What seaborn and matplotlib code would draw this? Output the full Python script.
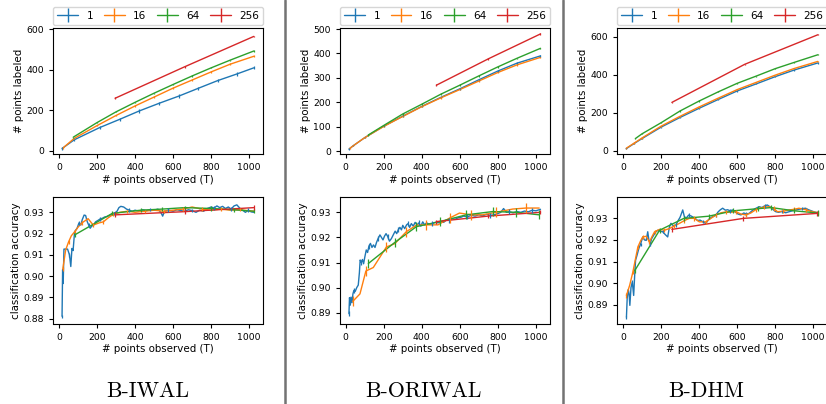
import matplotlib
matplotlib.use("Agg")
import matplotlib.pyplot as plt
from matplotlib.lines import Line2D
import pandas as pd
import seaborn as sns

# batch sizes shown in every legend
BATCHES = [1, 16, 64, 256]
PANELS = ["B-IWAL", "B-ORIWAL", "B-DHM"]

# ---- B-IWAL ---------------------------------------------------------------
iwal_lab_x = {
    1: [16, 80, 213, 319, 421, 526, 631, 732, 834, 936, 1024],
    16: [20, 80, 200, 300, 400, 500, 600, 700, 800, 900, 1024],
    64: [75, 200, 300, 400, 500, 600, 700, 800, 900, 1024],
    256: [295, 660, 1024],
}
iwal_lab_y = {
    1: [12, 55, 115, 156, 197, 235, 271, 309, 347, 380, 410],
    16: [14, 62, 125, 175, 222, 266, 310, 350, 390, 428, 467],
    64: [68, 140, 193, 240, 285, 328, 370, 410, 448, 493],
    256: [260, 415, 565],
}
iwal_acc_x = {
    1: [16, 19, 22, 26, 35, 45, 55, 62, 68, 74, 82, 95, 105, 115, 122, 132, 140,
        148, 156, 164, 172, 182, 192, 205, 215, 228, 240, 252, 265, 278, 290, 305,
        315, 325, 340, 355, 370, 385, 400, 420, 440, 460, 480, 500, 520, 535, 545,
        555, 575, 600, 620, 640, 660, 680, 700, 720, 740, 760, 780, 800, 815, 830,
        845, 860, 875, 890, 905, 920, 935, 950, 965, 980, 995, 1010, 1024],
    16: [20, 35, 50, 65, 83, 100, 120, 153, 180, 210, 233, 260, 285, 320, 360,
         400, 450, 500, 550, 600, 650, 700, 750, 800, 850, 900, 950, 1024],
    64: [83, 280, 430, 540, 660, 800, 920, 1024],
    256: [295, 660, 1024],
}
iwal_acc_y = {
    1: [0.8811, 0.9030, 0.8965, 0.9127, 0.9127, 0.9127, 0.9100, 0.9045, 0.9130,
        0.9120, 0.9209, 0.9225, 0.9250, 0.9240, 0.9265, 0.9287, 0.9285, 0.9257,
        0.9240, 0.9225, 0.9235, 0.9240, 0.9255, 0.9262, 0.9268, 0.9272, 0.9278,
        0.9280, 0.9285, 0.9290, 0.9295, 0.9305, 0.9322, 0.9328, 0.9325, 0.9315,
        0.9310, 0.9305, 0.9310, 0.9305, 0.9312, 0.9308, 0.9312, 0.9310, 0.9315,
        0.9300, 0.9282, 0.9305, 0.9310, 0.9305, 0.9312, 0.9308, 0.9305, 0.9312,
        0.9308, 0.9300, 0.9310, 0.9305, 0.9318, 0.9325, 0.9320, 0.9330, 0.9322,
        0.9328, 0.9318, 0.9325, 0.9315, 0.9330, 0.9335, 0.9320, 0.9310, 0.9300,
        0.9310, 0.9302, 0.9300],
    16: [0.9033, 0.9123, 0.9160, 0.9190, 0.9209, 0.9230, 0.9250, 0.9270, 0.9240,
         0.9250, 0.9255, 0.9275, 0.9290, 0.9300, 0.9305, 0.9300, 0.9305, 0.9310,
         0.9305, 0.9310, 0.9315, 0.9325, 0.9315, 0.9310, 0.9315, 0.9310, 0.9312,
         0.9305],
    64: [0.9194, 0.9295, 0.9310, 0.9315, 0.9322, 0.9318, 0.9312, 0.9305],
    256: [0.9288, 0.9303, 0.9322],
}

# ---- B-ORIWAL -------------------------------------------------------------
oriwal_lab_x = {
    1: [17, 40, 100, 200, 300, 400, 500, 600, 700, 800, 900, 1024],
    16: [20, 40, 100, 200, 300, 400, 500, 600, 700, 800, 900, 1024],
    64: [119, 200, 300, 400, 500, 600, 700, 800, 900, 1024],
    256: [477, 750, 1024],
}
oriwal_lab_y = {
    1: [8, 22, 55, 102, 143, 183, 220, 255, 292, 328, 360, 390],
    16: [10, 22, 55, 101, 142, 182, 218, 252, 287, 322, 353, 384],
    64: [66, 105, 152, 192, 233, 270, 308, 345, 380, 421],
    256: [270, 378, 480],
}
oriwal_acc_x = {
    1: [17, 20, 24, 28, 33, 38, 43, 50, 58, 66, 72, 76, 82, 88, 94, 100, 108, 115,
        122, 130, 138, 146, 154, 162, 170, 180, 188, 196, 204, 212, 220, 230, 240,
        250, 260, 268, 276, 285, 293, 300, 310, 320, 328, 336, 345, 355, 365, 375,
        385, 395, 405, 415, 425, 440, 455, 470, 485, 500, 515, 530, 545, 560, 575,
        590, 605, 620, 640, 660, 680, 700, 720, 740, 760, 780, 800, 815, 830, 845,
        860, 880, 900, 920, 940, 960, 980, 1000, 1024],
    16: [37, 75, 106, 145, 214, 258, 319, 372, 424, 485, 546, 598, 659, 720, 790,
         878, 948, 1017],
    64: [119, 258, 372, 494, 634, 773, 897, 1017],
    256: [477, 750, 1024],
}
oriwal_acc_y = {
    1: [0.8896, 0.8960, 0.8930, 0.8962, 0.8940, 0.8975, 0.8989, 0.8985, 0.9000,
        0.9010, 0.9060, 0.9110, 0.9100, 0.9112, 0.9095, 0.9120, 0.9150, 0.9140,
        0.9165, 0.9176, 0.9160, 0.9170, 0.9160, 0.9180, 0.9195, 0.9210, 0.9200,
        0.9190, 0.9205, 0.9215, 0.9205, 0.9185, 0.9195, 0.9210, 0.9225, 0.9215,
        0.9230, 0.9240, 0.9230, 0.9248, 0.9235, 0.9250, 0.9255, 0.9240, 0.9255,
        0.9245, 0.9260, 0.9250, 0.9258, 0.9245, 0.9262, 0.9250, 0.9258, 0.9252,
        0.9255, 0.9260, 0.9258, 0.9262, 0.9260, 0.9270, 0.9268, 0.9275, 0.9272,
        0.9278, 0.9280, 0.9285, 0.9282, 0.9288, 0.9285, 0.9290, 0.9286, 0.9292,
        0.9288, 0.9290, 0.9295, 0.9300, 0.9315, 0.9300, 0.9302, 0.9298, 0.9303,
        0.9300, 0.9305, 0.9302, 0.9308, 0.9306, 0.9312],
    16: [0.8945, 0.8975, 0.9066, 0.9080, 0.9162, 0.9175, 0.9223, 0.9249, 0.9250,
         0.9250, 0.9277, 0.9297, 0.9290, 0.9290, 0.9300, 0.9313, 0.9317, 0.9317],
    64: [0.9096, 0.9180, 0.9243, 0.9263, 0.9290, 0.9303, 0.9300, 0.9290],
    256: [0.9263, 0.9285, 0.9300],
}

# ---- B-DHM ----------------------------------------------------------------
dhm_lab_x = {
    1: [17, 60, 100, 200, 300, 400, 500, 600, 700, 800, 900, 1024],
    16: [17, 60, 100, 200, 300, 400, 500, 600, 700, 800, 900, 1024],
    64: [65, 100, 200, 300, 400, 500, 600, 700, 800, 900, 1024],
    256: [257, 640, 1024],
}
dhm_lab_y = {
    1: [12, 40, 65, 125, 176, 224, 270, 315, 352, 390, 425, 462],
    16: [14, 42, 68, 130, 182, 231, 277, 322, 360, 398, 433, 470],
    64: [65, 90, 148, 210, 262, 310, 355, 393, 432, 465, 505],
    256: [255, 455, 610],
}
dhm_acc_x = {
    1: [18, 22, 28, 32, 36, 42, 49, 56, 61, 66, 74, 83, 92, 104, 113, 122, 130,
        136, 143, 150, 160, 170, 183, 196, 209, 222, 235, 244, 252, 265, 279, 290,
        300, 314, 322, 331, 345, 358, 370, 380, 392, 405, 418, 428, 436, 450, 465,
        478, 489, 500, 512, 524, 538, 550, 563, 576, 590, 605, 620, 635, 648, 663,
        678, 695, 716, 730, 745, 759, 775, 790, 803, 818, 835, 855, 870, 890, 908,
        925, 942, 960, 975, 990, 1005, 1024],
    16: [18, 35, 52, 65, 78, 92, 104, 122, 139, 152, 166, 192, 218, 244, 270, 297,
         323, 349, 375, 401, 436, 462, 489, 515, 541, 567, 593, 620, 646, 672, 698,
         716, 742, 768, 794, 812, 842, 873, 900, 925, 960, 990, 1024],
    64: [61, 192, 320, 450, 580, 710, 780, 900, 1024],
    256: [257, 633, 1020],
}
dhm_acc_y = {
    1: [0.8842, 0.8930, 0.8970, 0.8950, 0.8897, 0.8980, 0.9005, 0.8943, 0.9030,
        0.9106, 0.9130, 0.9160, 0.9180, 0.9214, 0.9200, 0.9198, 0.9238, 0.9200,
        0.9180, 0.9205, 0.9220, 0.9235, 0.9245, 0.9240, 0.9238, 0.9225, 0.9214,
        0.9260, 0.9277, 0.9265, 0.9270, 0.9290, 0.9305, 0.9339, 0.9310, 0.9300,
        0.9315, 0.9311, 0.9305, 0.9300, 0.9290, 0.9292, 0.9285, 0.9280, 0.9277,
        0.9295, 0.9305, 0.9310, 0.9316, 0.9330, 0.9340, 0.9347, 0.9338, 0.9340,
        0.9335, 0.9339, 0.9330, 0.9320, 0.9316, 0.9325, 0.9320, 0.9323, 0.9335,
        0.9345, 0.9354, 0.9350, 0.9358, 0.9362, 0.9352, 0.9340, 0.9331, 0.9328,
        0.9332, 0.9326, 0.9330, 0.9335, 0.9339, 0.9342, 0.9345, 0.9347, 0.9340,
        0.9335, 0.9330, 0.9326],
    16: [0.8943, 0.8990, 0.9052, 0.9110, 0.9167, 0.9195, 0.9214, 0.9217, 0.9190,
         0.9215, 0.9238, 0.9249, 0.9245, 0.9253, 0.9265, 0.9277, 0.9290, 0.9300,
         0.9300, 0.9284, 0.9284, 0.9300, 0.9316, 0.9326, 0.9330, 0.9328, 0.9331,
         0.9320, 0.9316, 0.9325, 0.9340, 0.9347, 0.9352, 0.9354, 0.9345, 0.9331,
         0.9333, 0.9339, 0.9342, 0.9347, 0.9340, 0.9332, 0.9326],
    64: [0.9057, 0.9245, 0.9300, 0.9310, 0.9335, 0.9345, 0.9350, 0.9335, 0.9325],
    256: [0.9249, 0.9300, 0.9323],
}

# error bar half-widths, one per batch size
lab_err = {"B-IWAL": [8, 4, 3, 4], "B-ORIWAL": [3, 3, 3, 3], "B-DHM": [3, 3, 3, 3]}
acc_err = {"B-IWAL": [0.0008, 0.0008, 0.0010, 0.0012],
           "B-ORIWAL": [0.0010, 0.0020, 0.0018, 0.0008],
           "B-DHM": [0.0008, 0.0010, 0.0012, 0.0012]}

lab_data = {"B-IWAL": (iwal_lab_x, iwal_lab_y),
            "B-ORIWAL": (oriwal_lab_x, oriwal_lab_y),
            "B-DHM": (dhm_lab_x, dhm_lab_y)}
acc_data = {"B-IWAL": (iwal_acc_x, iwal_acc_y),
            "B-ORIWAL": (oriwal_acc_x, oriwal_acc_y),
            "B-DHM": (dhm_acc_x, dhm_acc_y)}

lab_ylim = {"B-IWAL": (-15, 605), "B-ORIWAL": (-12, 503), "B-DHM": (-16, 644)}
lab_ticks = {"B-IWAL": [0, 200, 400, 600], "B-ORIWAL": [0, 100, 200, 300, 400, 500],
             "B-DHM": [0, 200, 400, 600]}
acc_ylim = {"B-IWAL": (0.8777, 0.9372), "B-ORIWAL": (0.8857, 0.9361),
            "B-DHM": (0.8813, 0.9399)}
acc_ticks = {"B-IWAL": [0.88, 0.89, 0.90, 0.91, 0.92, 0.93],
             "B-ORIWAL": [0.89, 0.90, 0.91, 0.92, 0.93],
             "B-DHM": [0.89, 0.90, 0.91, 0.92, 0.93]}

W, H = 826, 404
sns.set_style("ticks")
plt.rcParams.update({
    "font.family": ["DejaVu Sans"],
    "axes.edgecolor": "black", "axes.linewidth": 0.8,
    "text.color": "black", "axes.labelcolor": "black",
    "xtick.color": "black", "ytick.color": "black",
    "xtick.labelsize": 6.7, "ytick.labelsize": 6.7,
    "xtick.major.size": 3, "ytick.major.size": 3,
    "xtick.major.width": 0.8, "ytick.major.width": 0.8,
    "axes.labelsize": 7.4,
})
palette = dict(zip(BATCHES, sns.color_palette("tab10", 4)))


def box(left, top, right, bottom):
    return [left / W, 1 - bottom / H, (right - left) / W, (bottom - top) / H]


def long_frame(xs, ys):
    rows = []
    for b in BATCHES:
        for x, y in zip(xs[b], ys[b]):
            rows.append({"T": x, "value": y, "batch": b})
    return pd.DataFrame(rows)


def draw(ax, xs, ys, errs, steps):
    sns.lineplot(data=long_frame(xs, ys), x="T", y="value", hue="batch",
                 palette=palette, estimator=None, sort=False, legend=False,
                 lw=1.0, ax=ax)
    for b, err, step in zip(BATCHES, errs, steps):
        ax.errorbar(xs[b][::step], ys[b][::step], yerr=err, fmt="none",
                    ecolor=palette[b], elinewidth=0.9, capsize=0)
    ax.set_xlim(-30, 1074)
    ax.set_xticks([0, 200, 400, 600, 800, 1000])
    ax.set_xlabel("# points observed (T)", labelpad=2)
    for s in ax.spines.values():
        s.set_visible(True)


fig = plt.figure(figsize=(W / 100, H / 100), dpi=100)
lefts = [53.3, 340, 617.3]
title_x = [148, 424, 706]

for name, left, tx in zip(PANELS, lefts, title_x):
    ax_top = fig.add_axes(box(left, 28.3, left + 210, 154))
    ax_bot = fig.add_axes(box(left, 197, left + 210, 323.5))

    draw(ax_top, *lab_data[name], lab_err[name], [1, 1, 1, 1])
    ax_top.set_ylim(*lab_ylim[name])
    ax_top.set_yticks(lab_ticks[name])
    ax_top.set_ylabel("# points labeled", labelpad=2)

    draw(ax_bot, *acc_data[name], acc_err[name], [6, 2, 1, 1])
    ax_bot.set_ylim(*acc_ylim[name])
    ax_bot.set_yticks(acc_ticks[name])
    ax_bot.set_yticklabels([f"{t:.2f}" for t in acc_ticks[name]])
    ax_bot.set_ylabel("classification accuracy", labelpad=2)

    handles = [Line2D([], [], color=palette[b], lw=1.0, marker="|",
                      markersize=10, markeredgewidth=1.0) for b in BATCHES]
    ax_top.legend(handles, [str(b) for b in BATCHES], loc="lower left",
                  bbox_to_anchor=(0, 1.026, 1, 0.12), mode="expand", ncol=4,
                  borderaxespad=0, fontsize=7.5, handlelength=2.0,
                  fancybox=True, framealpha=0.8, edgecolor="0.8")

    fig.text(tx / W, 1 - 396.7 / H, name, ha="center", va="baseline",
             fontsize=15.8, family=["cmr10", "DejaVu Serif"])

# grey separators between the three sub-figures
for sx in [285, 563]:
    fig.add_artist(Line2D([sx / W, sx / W], [0, 1], transform=fig.transFigure,
                          color="0.45", lw=1.8))

fig.savefig("out.png", dpi=100)
